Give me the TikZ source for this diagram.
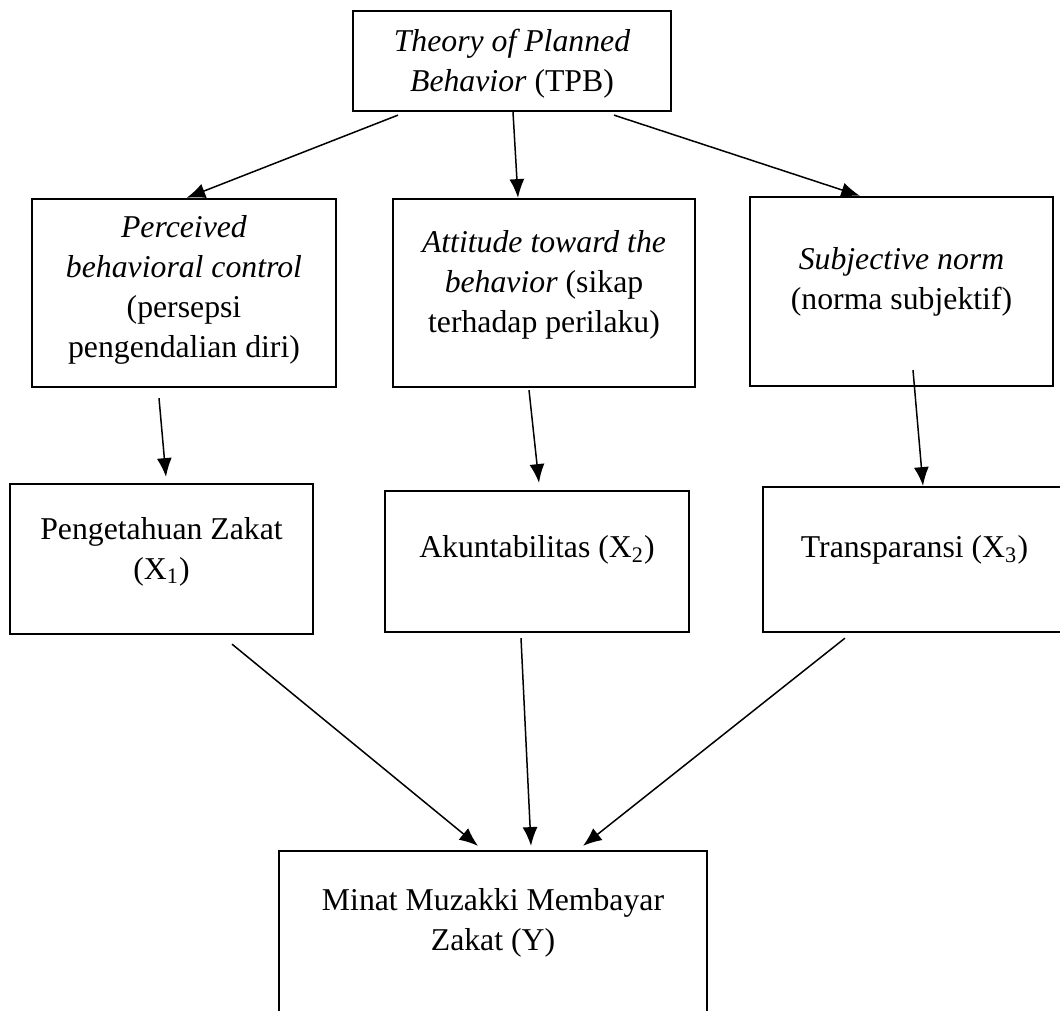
\documentclass[tikz,border=0pt]{standalone}
\usepackage{fontspec}
\setmainfont{Liberation Serif}
\tikzstyle{box}=[rectangle,draw=black,line width=0.9pt,inner sep=0pt]
\tikzstyle{txt}=[align=center,inner sep=0pt,font=\fontsize{12.7}{16}\selectfont]
\tikzstyle{link}=[line width=0.6pt]
\usetikzlibrary{arrows.meta,positioning}

\begin{document}
\begin{tikzpicture}[x=0.4pt, y=-0.4pt, >={Latex[length=7.5pt,width=6pt]}]
            \useasboundingbox (0,0) rectangle (1060,1011);

            % TPB PART

            \node[box, minimum width=127.2pt, minimum height=40pt,
                label={[txt,yshift=-1.2pt]center:{\textit{Theory of Planned}\\\textit{Behavior} (TPB)}}] (tpb) at (512,61) {};

            % DIMENSION PART

            \node[box, minimum width=121.6pt, minimum height=75.2pt,
                label={[txt,yshift=1.2pt]center:{\textit{Perceived}\\\textit{behavioral control}\\(persepsi\\pengendalian diri)}}] (pbc) at (184,293) {};
            \node[box, minimum width=120.8pt, minimum height=75.2pt,
                label={[txt,yshift=3.2pt]center:{\textit{Attitude toward the}\\\textit{behavior} (sikap\\terhadap perilaku)}}] (att) at (544,293) {};
            \node[box, minimum width=121.2pt, minimum height=75.6pt,
                label={[txt,yshift=3.8pt]center:{\textit{Subjective norm}\\(norma subjektif)}}] (sn) at (901.5,291.5) {};

            \path[link,->] ([xshift=-45.6pt,yshift=-1.2pt]tpb.south) edge ([xshift=1pt]pbc.north);
            \path[link,->] ([xshift=0.4pt]tpb.south) edge ([xshift=-10.4pt]att.north);
            \path[link,->] ([xshift=40.8pt,yshift=-1.2pt]tpb.south) edge ([xshift=-16.6pt]sn.north);

            % VARIABLE PART

            \node[box, minimum width=121.2pt, minimum height=60pt,
                label={[txt,yshift=3pt]center:{Pengetahuan Zakat\\(X\textsubscript{1})}}] (x1) at (161.5,559) {};
            \node[box, minimum width=121.6pt, minimum height=56.4pt,
                label={[txt,yshift=4.6pt]center:{Akuntabilitas (X\textsubscript{2})}}] (x2) at (537,561.5) {};
            \node[box, minimum width=121.2pt, minimum height=58pt,
                label={[txt,yshift=3.8pt]center:{Transparansi (X\textsubscript{3})}}] (x3) at (914.5,559.5) {};

            \path[link,->] ([xshift=-10pt,yshift=-4pt]pbc.south) edge ([xshift=1.8pt,yshift=2.4pt]x1.north);
            \path[link,->] ([xshift=-6pt,yshift=-0.8pt]att.south) edge ([xshift=0.8pt,yshift=2.8pt]x2.north);
            \path[link,->] ([xshift=4.6pt,yshift=6.8pt]sn.south) edge ([xshift=3.4pt]x3.north);

            % OUTCOME PART

            \node[box, minimum width=171.2pt, minimum height=80pt,
                label={[txt,yshift=11.2pt]center:{Minat Muzakki Membayar\\Zakat (Y)}}] (y) at (493,951) {};

            \path[link,->] ([xshift=28.2pt,yshift=-3.6pt]x1.south) edge ([xshift=-6pt,yshift=1.6pt]y.north);
            \path[link,->] ([xshift=-6.4pt,yshift=-2pt]x2.south) edge ([xshift=15.2pt,yshift=1.6pt]y.north);
            \path[link,->] ([xshift=-27.8pt,yshift=-2pt]x3.south) edge ([xshift=36pt,yshift=1.6pt]y.north);

\end{tikzpicture}
\end{document}
